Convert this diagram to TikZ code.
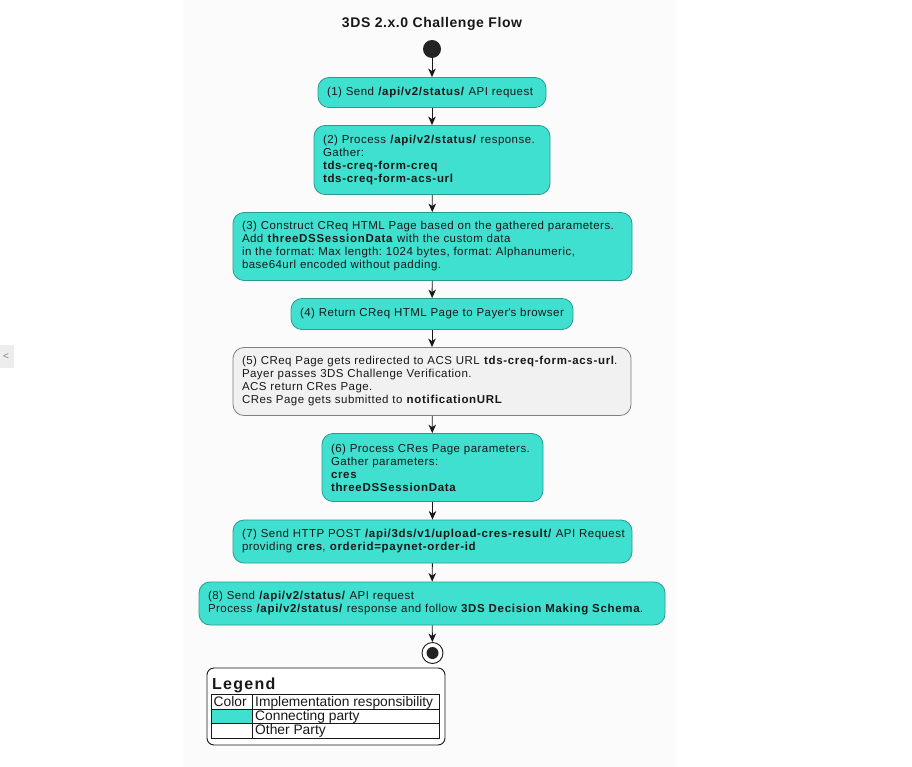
\documentclass[tikz,border=0pt]{standalone}
\usepackage{fontspec}
\setmainfont{Liberation Sans}[LetterSpace=4, BoldFeatures={LetterSpace=6}]
\newfontfamily\titlefont{Liberation Sans}[LetterSpace=4]
\newfontfamily\legfont{Liberation Sans}
\newfontfamily\legtitlefont{Liberation Sans}[LetterSpace=8]
\usetikzlibrary{arrows.meta}
\definecolor{turq}{HTML}{40E0D0}
\definecolor{turqborder}{HTML}{2A9A8F}
\definecolor{grayfill}{HTML}{F1F1F1}
\definecolor{grayborder}{HTML}{7F7F7F}
\definecolor{panelbg}{HTML}{FBFBFB}
\definecolor{tabgray}{HTML}{EDEDED}
\definecolor{ink}{HTML}{181818}
\hfuzz=60pt
\frenchspacing
\tikzset{
  actbox/.style={draw=turqborder, fill=turq, line width=0.8pt, rounded corners=11pt,
    align=left, inner xsep=9pt, inner ysep=0pt, anchor=center,
    font=\fontsize{11.5}{13}\selectfont, text=ink},
  otherbox/.style={actbox, draw=grayborder, fill=grayfill},
  flow/.style={draw=ink, line width=0.9pt, -{Stealth[length=8.5pt,width=7.5pt,inset=2.5pt]}},
  legtext/.style={font=\legfont\fontsize{13.8}{14}\selectfont, text=ink, inner sep=0pt, anchor=base west},
}
\begin{document}
\frenchspacing
\begin{tikzpicture}[x=1pt,y=-1pt]
\useasboundingbox (0,0) rectangle (912,767);
\fill[white] (0,0) rectangle (912,767);
\fill[panelbg] (183,0) rectangle (675,767);
% side tab
\fill[tabgray] (0,345) rectangle (14,368);
\node[font=\legfont\fontsize{10}{10}\selectfont, text=gray] (tab) at (6,356.5) {<};
% title
\node[font=\titlefont\bfseries\fontsize{14}{15}\selectfont, text=ink] (title) at (432,24) {3DS 2.x.0 Challenge Flow};
% start
\node[circle, fill=ink!95, minimum size=18pt, inner sep=0pt] (start) at (432,49) {};
\node[actbox, minimum width=228pt, text width=210pt, minimum height=30pt] (b1) at (432,92.5)
 {\mbox{(1) Send \textbf{/api/v2/status/} API request}};
\node[actbox, minimum width=236pt, text width=218pt, minimum height=69pt] (b2) at (432,160)
 {(2) Process \textbf{/api/v2/status/} response.\\ Gather:\\ \textbf{tds-creq-form-creq}\\ \textbf{tds-creq-form-acs-url}};
\node[actbox, minimum width=399pt, text width=381pt, minimum height=68pt] (b3) at (432.5,246.5)
 {\mbox{(3) Construct CReq HTML Page based on the gathered parameters.}\\ Add \textbf{threeDSSessionData} with the custom data\\ in the format: Max length: 1024 bytes, format: Alphanumeric,\\ base64url encoded without padding.};
\node[actbox, minimum width=282pt, text width=264pt, minimum height=31pt] (b4) at (432,314)
 {\mbox{(4) Return CReq HTML Page to Payer\textquotesingle s browser}};
\node[otherbox, minimum width=398pt, text width=380pt, minimum height=68pt] (b5) at (432,381.5)
 {\mbox{(5) CReq Page gets redirected to ACS URL \textbf{tds-creq-form-acs-url}.}\\ Payer passes 3DS Challenge Verification.\\ ACS return CRes Page.\\ CRes Page gets submitted to \textbf{notificationURL}};
\node[actbox, minimum width=221pt, text width=203pt, minimum height=68pt] (b6) at (432.5,467.5)
 {(6) Process CRes Page parameters.\\ Gather parameters:\\ \textbf{cres}\\ \textbf{threeDSSessionData}};
\node[actbox, minimum width=399pt, text width=381pt, minimum height=43pt] (b7) at (432.5,541.5)
 {\mbox{(7) Send HTTP POST \textbf{/api/3ds/v1/upload-cres-result/} API Request}\\ providing \textbf{cres}, \textbf{orderid=paynet-order-id}};
\node[actbox, minimum width=466pt, text width=448pt, minimum height=43pt] (b8) at (432,603.5)
 {(8) Send \textbf{/api/v2/status/} API request\\ \mbox{Process \textbf{/api/v2/status/} response and follow \textbf{3DS Decision Making Schema}.}};
% end
\node[circle, draw=ink, line width=0.9pt, fill=white, minimum size=21pt, inner sep=0pt] (end) at (432.5,653) {};
\fill[ink!95] (end.center) circle (6pt);
% flows
\draw[flow] (start) -- (b1);
\draw[flow] (b1) -- (b2);
\draw[flow] (b2) -- (b3);
\draw[flow] (b3) -- (b4);
\draw[flow] (b4) -- (b5);
\draw[flow] (b5) -- (b6);
\draw[flow] (b6) -- (b7);
\draw[flow] (b7) -- (b8);
\draw[flow] (b8) -- (end);
% legend
\draw[ink, line width=0.9pt, fill=white, rounded corners=7pt] (207,668) rectangle (445,745);
\node[legtext, font=\legtitlefont\bfseries\fontsize{16}{17}\selectfont] (legtitle) at (212,689) {Legend};
\fill[turq] (211,709) rectangle (252,723);
\draw[ink, line width=0.8pt] (211,694) rectangle (439,738);
\draw[ink, line width=0.8pt] (211,709) -- (439,709);
\draw[ink, line width=0.8pt] (211,723) -- (439,723);
\draw[ink, line width=0.8pt] (252,694) -- (252,738);
\node[legtext] (lc) at (213.5,706) {Color};
\node[legtext] (li) at (255,706) {Implementation responsibility};
\node[legtext] (lcp) at (255,720.5) {Connecting party};
\node[legtext] (lop) at (255,734.5) {Other Party};
\end{tikzpicture}
\end{document}
